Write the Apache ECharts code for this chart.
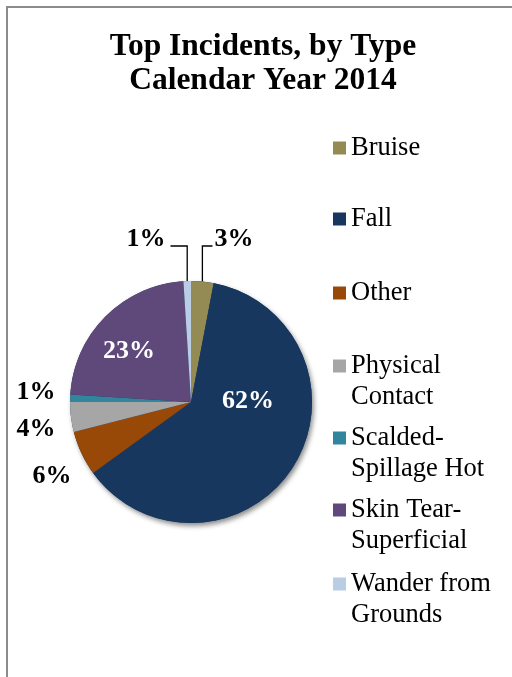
<!DOCTYPE html>
<html>
<head>
<meta charset="utf-8">
<script src="https://cdn.jsdelivr.net/npm/echarts@6/dist/echarts.min.js"></script>
<style>
  html, body { margin: 0; padding: 0; background: #ffffff; }
  #chart { width: 512px; height: 677px; }
</style>
</head>
<body>
<div id="chart"></div>
<script>
// Incident categories and their share of all incidents (percent)
const categories = ['Bruise', 'Fall', 'Other', 'Physical Contact', 'Scalded-Spillage Hot', 'Skin Tear-Superficial', 'Wander from Grounds'];
const legendLabels = ['Bruise', 'Fall', 'Other', 'Physical\nContact', 'Scalded-\nSpillage Hot', 'Skin Tear-\nSuperficial', 'Wander from\nGrounds'];
const shares = [3, 62, 6, 4, 1, 23, 1];
const sliceColors = ['#948A54', '#17375E', '#984807', '#A6A6A6', '#31859C', '#5F497A', '#B9CDE5'];

// Pie geometry
const CX = 191, CY = 402, R = 121;
const SERIF = '"Liberation Serif", "Times New Roman", serif';

// Where each percentage label sits (centre of the text)
const labelSpots = [[234, 239], [248, 401], [52, 476], [36, 429], [36, 392], [129, 351], [146, 239]];
const whiteLabels = [1, 5];
const leaderLabels = [0, 6];
// Vertical centre of each legend marker
const legendRows = [148, 219, 293, 366, 438, 510, 584];
const LEGEND_LINE = 31;

const total = shares.reduce((a, b) => a + b, 0);
function midAngle(i) {
  let before = 0;
  for (let k = 0; k < i; k++) before += shares[k];
  return (before + shares[i] / 2) / total * Math.PI * 2;
}

const pieData = categories.map((name, i) => ({
  name: name,
  value: shares[i],
  itemStyle: { color: sliceColors[i] },
  label: { color: whiteLabels.includes(i) ? '#ffffff' : '#000000' },
  labelLine: { show: leaderLabels.includes(i), lineStyle: { color: '#000000', width: 1.3 } }
}));

// One legend block per category; wrapped names get a blank leading line so
// the marker lines up with the first line of text.
const legends = categories.map((name, i) => {
  const twoLines = legendLabels[i].indexOf('\n') >= 0;
  const text = twoLines ? ' \n' + legendLabels[i] : legendLabels[i];
  return {
    data: [name],
    left: 333,
    top: twoLines ? legendRows[i] - LEGEND_LINE * 1.5 : legendRows[i] - LEGEND_LINE / 2,
    orient: 'vertical',
    padding: 0,
    itemWidth: 13,
    itemHeight: 13,
    icon: 'rect',
    selectedMode: false,
    formatter: () => text,
    textStyle: {
      fontFamily: SERIF,
      fontSize: 26.5,
      lineHeight: LEGEND_LINE,
      color: '#000000'
    }
  };
});

const chart = echarts.init(document.getElementById('chart'), null, { renderer: 'canvas' });
chart.setOption({
  backgroundColor: '#ffffff',
  animation: false,
  graphic: [
    {
      type: 'polyline',
      shape: { points: [[7, 677], [7, 7], [512, 7]] },
      style: { stroke: '#8c8c8c', lineWidth: 2, fill: null },
      silent: true
    },
    {
      type: 'text',
      x: 263,
      y: 30,
      style: {
        text: 'Top Incidents, by Type\nCalendar Year 2014',
        align: 'center',
        verticalAlign: 'top',
        fontFamily: SERIF,
        fontSize: 31.5,
        fontWeight: 'bold',
        lineHeight: 34,
        fill: '#000000'
      },
      silent: true
    }
  ],
  legend: legends,
  series: [
    {
      // whole-pie backing disc that casts the soft drop shadow
      type: 'pie',
      name: 'backing',
      center: [CX, CY],
      radius: R,
      z: 1,
      silent: true,
      label: { show: false },
      labelLine: { show: false },
      itemStyle: {
        color: '#17375E',
        shadowBlur: 5,
        shadowOffsetX: 2,
        shadowOffsetY: 3,
        shadowColor: 'rgba(0,0,0,0.45)'
      },
      data: [{ name: '', value: total }]
    },
    {
      type: 'pie',
      name: 'Incidents',
      center: [CX, CY],
      radius: R,
      z: 2,
      startAngle: 90,
      clockwise: true,
      avoidLabelOverlap: false,
      silent: true,
      itemStyle: { borderWidth: 0 },
      label: {
        show: true,
        position: 'outside',
        formatter: '{c}%',
        fontFamily: SERIF,
        fontWeight: 'bold',
        fontSize: 26
      },
      labelLine: { show: false },
      labelLayout: function (p) {
        const i = p.dataIndex;
        const spot = labelSpots[i];
        const res = { x: spot[0], y: spot[1], align: 'center', verticalAlign: 'middle' };
        if (leaderLabels.includes(i)) {
          const a = midAngle(i);
          const ex = CX + R * Math.sin(a);
          const ey = CY - R * Math.cos(a);
          const halfW = p.labelRect.width / 2;
          const ly = spot[1] + 7;
          const lx = spot[0] > ex ? spot[0] - halfW - 2 : spot[0] + halfW + 5;
          res.labelLinePoints = [[ex, ey], [ex, ly], [lx, ly]];
        }
        return res;
      },
      data: pieData
    }
  ]
});
</script>
</body>
</html>
